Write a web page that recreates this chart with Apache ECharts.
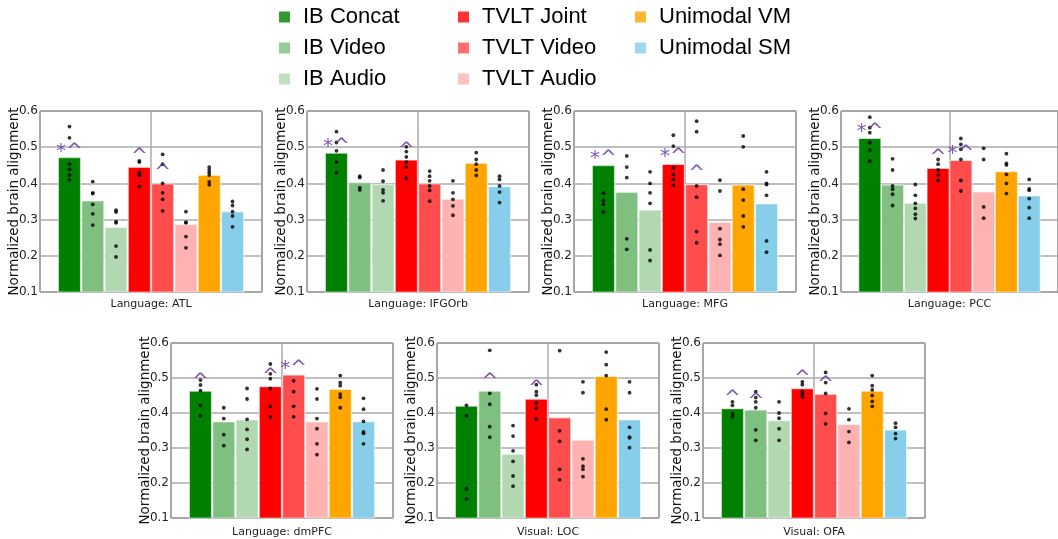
<!DOCTYPE html>
<html>
<head>
<meta charset="utf-8">
<script src="https://cdn.jsdelivr.net/npm/echarts@6/dist/echarts.min.js"></script>
<style>
html,body{margin:0;padding:0;background:#fff;}
#chart{width:1058px;height:539px;}
</style>
</head>
<body>
<div id="chart"></div>
<script>
// ---------- data ----------
const models = ['IB Concat','IB Video','IB Audio','TVLT Joint','TVLT Video','TVLT Audio','Unimodal VM','Unimodal SM'];
const colors = ['#008000','#7fbf7f','#b2d8b2','#ff0000','#ff4c4c','#ffb2b2','#ffa500','#87ceeb'];
const regions = ['Language: ATL','Language: IFGOrb','Language: MFG','Language: PCC','Language: dmPFC','Visual: LOC','Visual: OFA'];
const yAxisTitle = 'Normalized brain alignment';

const meansATL = [0.473,0.353,0.280,0.446,0.400,0.288,0.424,0.323];
const dotsATL = [[0.557,0.526,0.453,0.439,0.423,0.410],[0.405,0.374,0.372,0.342,0.316,0.285],[0.326,0.321,0.294,0.291,0.227,0.197],[0.462,0.459,0.431,0.422,0.392],[0.480,0.453,0.400,0.374,0.356,0.324],[0.322,0.293,0.291,0.253,0.222],[0.445,0.437,0.430,0.423,0.404,0.396],[0.350,0.339,0.322,0.310,0.280]];
const marksATL = ['*^','','','^','^','','',''];
const markYATL = [0.506,null,null,0.494,0.450,null,null,null];

const meansIFGOrb = [0.485,0.404,0.398,0.466,0.400,0.358,0.457,0.393];
const dotsIFGOrb = [[0.543,0.513,0.490,0.459,0.430],[0.420,0.416,0.388,0.382],[0.437,0.406,0.382,0.374,0.352],[0.501,0.488,0.473,0.459,0.445,0.414],[0.434,0.420,0.407,0.393,0.381,0.351],[0.407,0.374,0.356,0.338,0.312],[0.485,0.466,0.453,0.437,0.422],[0.420,0.411,0.393,0.376,0.347]];
const marksIFGOrb = ['*^','','','^','','','',''];
const markYIFGOrb = [0.520,null,null,0.510,null,null,null,null];

const meansMFG = [0.451,0.377,0.328,0.454,0.398,0.294,0.397,0.345];
const dotsMFG = [[0.373,0.353,0.342,0.321],[0.476,0.445,0.416,0.247,0.218],[0.432,0.400,0.374,0.345,0.216,0.187],[0.533,0.503,0.443,0.425,0.411,0.395],[0.572,0.543,0.393,0.362,0.267,0.236],[0.409,0.379,0.275,0.245,0.232,0.201],[0.531,0.501,0.384,0.354,0.310,0.280],[0.432,0.400,0.397,0.367,0.241,0.210]];
const marksMFG = ['*^','','','*^','^','','',''];
const markYMFG = [0.487,null,null,0.492,0.446,null,null,null];

const meansPCC = [0.526,0.397,0.347,0.443,0.465,0.378,0.434,0.367];
const dotsPCC = [[0.583,0.554,0.540,0.513,0.492,0.462],[0.468,0.437,0.393,0.384,0.370,0.339],[0.397,0.367,0.345,0.331,0.315,0.303],[0.466,0.453,0.437,0.423,0.408],[0.524,0.508,0.494,0.466,0.408,0.379],[0.497,0.466,0.335,0.304],[0.482,0.455,0.451,0.425,0.400,0.372],[0.411,0.385,0.381,0.358,0.333,0.304]];
const marksPCC = ['*^','','','^','*^','','',''];
const markYPCC = [0.561,null,null,0.490,0.501,null,null,null];

const meansDmPFC = [0.464,0.376,0.382,0.477,0.510,0.376,0.469,0.377];
const dotsDmPFC = [[0.494,0.480,0.464,0.422,0.392],[0.415,0.384,0.338,0.307],[0.470,0.440,0.382,0.353,0.325,0.296],[0.540,0.512,0.498,0.470,0.419,0.389],[0.492,0.461,0.419,0.389],[0.469,0.440,0.384,0.355,0.312,0.281],[0.507,0.487,0.478,0.454,0.445,0.415],[0.442,0.411,0.376,0.346,0.342,0.312]];
const marksDmPFC = ['^','','','^','*^','','',''];
const markYDmPFC = [0.509,null,null,0.524,0.547,null,null,null];

const meansLOC = [0.421,0.464,0.284,0.441,0.388,0.324,0.506,0.382];
const dotsLOC = [[0.422,0.392,0.183,0.154],[0.579,0.456,0.425,0.361,0.331],[0.364,0.334,0.292,0.262,0.220,0.191],[0.481,0.461,0.451,0.429,0.414,0.383],[0.578,0.349,0.319,0.239,0.209],[0.489,0.458,0.269,0.248,0.239,0.218],[0.574,0.538,0.507,0.411,0.381],[0.489,0.458,0.359,0.331,0.329,0.301]];
const marksLOC = ['','^','','^','','','',''];
const markYLOC = [null,0.509,null,0.489,null,null,null,null];

const meansOFA = [0.414,0.410,0.380,0.471,0.455,0.369,0.464,0.353];
const dotsOFA = [[0.432,0.422,0.398,0.389],[0.461,0.444,0.432,0.415,0.352,0.322],[0.432,0.400,0.385,0.355,0.322],[0.489,0.481,0.461,0.454,0.446],[0.516,0.487,0.456,0.399,0.369],[0.412,0.381,0.347,0.316],[0.507,0.478,0.466,0.450,0.433,0.419],[0.371,0.359,0.341,0.327]];
const marksOFA = ['^','^','','^','^','','',''];
const markYOFA = [0.461,0.452,null,0.519,0.500,null,null,null];

const panelMeans = [meansATL,meansIFGOrb,meansMFG,meansPCC,meansDmPFC,meansLOC,meansOFA];
const panelDots = [dotsATL,dotsIFGOrb,dotsMFG,dotsPCC,dotsDmPFC,dotsLOC,dotsOFA];
const panelMarks = [marksATL,marksIFGOrb,marksMFG,marksPCC,marksDmPFC,marksLOC,marksOFA];
const panelMarkY = [markYATL,markYIFGOrb,markYMFG,markYPCC,markYDmPFC,markYLOC,markYOFA];

// ---------- layout ----------
const gridBoxes = [
  {left:40, top:111, width:222, height:181, nameGap:7},
  {left:307, top:111, width:222, height:181, nameGap:7},
  {left:574, top:111, width:222, height:181, nameGap:7},
  {left:841, top:111, width:222, height:181, nameGap:7},
  {left:171, top:343, width:222, height:184, nameGap:9},
  {left:437, top:343, width:222, height:184, nameGap:9},
  {left:703, top:343, width:222, height:184, nameGap:9}
];
const half = 4.765; // x half-range in bar units
const gridColor = '#ababab';
const font = 'DejaVu Sans';

const grid = [], xAxis = [], yAxis = [], series = [];
gridBoxes.forEach((g, p) => {
  grid.push({left:g.left, top:g.top, width:g.width, height:g.height, show:true,
    borderColor:'#3a3a3a', borderWidth:1, backgroundColor:'#fff', containLabel:false});
  xAxis.push({gridIndex:p, type:'value', min:-half, max:half, interval:half,
    axisLine:{show:false}, axisTick:{show:false}, axisLabel:{show:false},
    splitLine:{show:true, lineStyle:{color:gridColor, width:1.5}},
    name:regions[p], nameLocation:'middle', nameGap:g.nameGap,
    nameTextStyle:{fontSize:11, color:'#222', fontFamily:font, verticalAlign:'top'}});
  yAxis.push({gridIndex:p, type:'value', min:0.1, max:0.6, interval:0.1,
    axisLine:{show:false}, axisTick:{show:false},
    axisLabel:{fontSize:12, margin:2, color:'#222', fontFamily:font, formatter:v => v.toFixed(1)},
    splitLine:{show:true, lineStyle:{color:gridColor, width:1.6}},
    name:yAxisTitle, nameLocation:'middle', nameGap:19, nameMoveOverlap:false,
    nameTextStyle:{fontSize:13.5, color:'#111', fontFamily:font}});
  const bw = g.width / (2*half);
  series.push({type:'bar', xAxisIndex:p, yAxisIndex:p, barWidth:bw, silent:true, z:2,
    itemStyle:{borderColor:'rgba(255,255,255,0.55)', borderWidth:1.2},
    data: panelMeans[p].map((v,i) => ({value:[i-3.5, v], itemStyle:{color:colors[i]}}))});
  const dots = [];
  panelDots[p].forEach((arr,i) => arr.forEach(v => dots.push([i-3.5, v])));
  series.push({type:'scatter', xAxisIndex:p, yAxisIndex:p, symbolSize:3.8, silent:true, z:3,
    itemStyle:{color:'#000'}, data:dots});
  const marks = [];
  panelMarks[p].forEach((m,i) => { if (m) marks.push({name:m, value:[i-3.5, panelMarkY[p][i]]}); });
  series.push({type:'scatter', xAxisIndex:p, yAxisIndex:p, symbolSize:1, silent:true, z:4,
    itemStyle:{color:'rgba(0,0,0,0)'},
    label:{show:true, formatter:'{b}', position:'inside', offset:[0,7], color:'#5b2a9e', fontSize:20, fontFamily:font},
    data:marks});
});
// legend entries
models.forEach((m,i) => series.push({type:'scatter', name:m, xAxisIndex:0, yAxisIndex:0, data:[], itemStyle:{color:colors[i]}}));

const legendBase = {orient:'vertical', top:6, padding:0, itemWidth:11, itemHeight:11, itemGap:9, icon:'rect', selectedMode:false,
  textStyle:{fontSize:22, fontFamily:'Liberation Sans', color:'#000', padding:[0,0,0,8], lineHeight:22}};
const legend = [
  Object.assign({}, legendBase, {left:279, data:models.slice(0,3)}),
  Object.assign({}, legendBase, {left:458, data:models.slice(3,6)}),
  Object.assign({}, legendBase, {left:635, data:models.slice(6,8)})
];

const chart = echarts.init(document.getElementById('chart'), null, {renderer:'canvas'});
chart.setOption({animation:false, backgroundColor:'#fff', grid, xAxis, yAxis, series, legend});
</script>
</body>
</html>
